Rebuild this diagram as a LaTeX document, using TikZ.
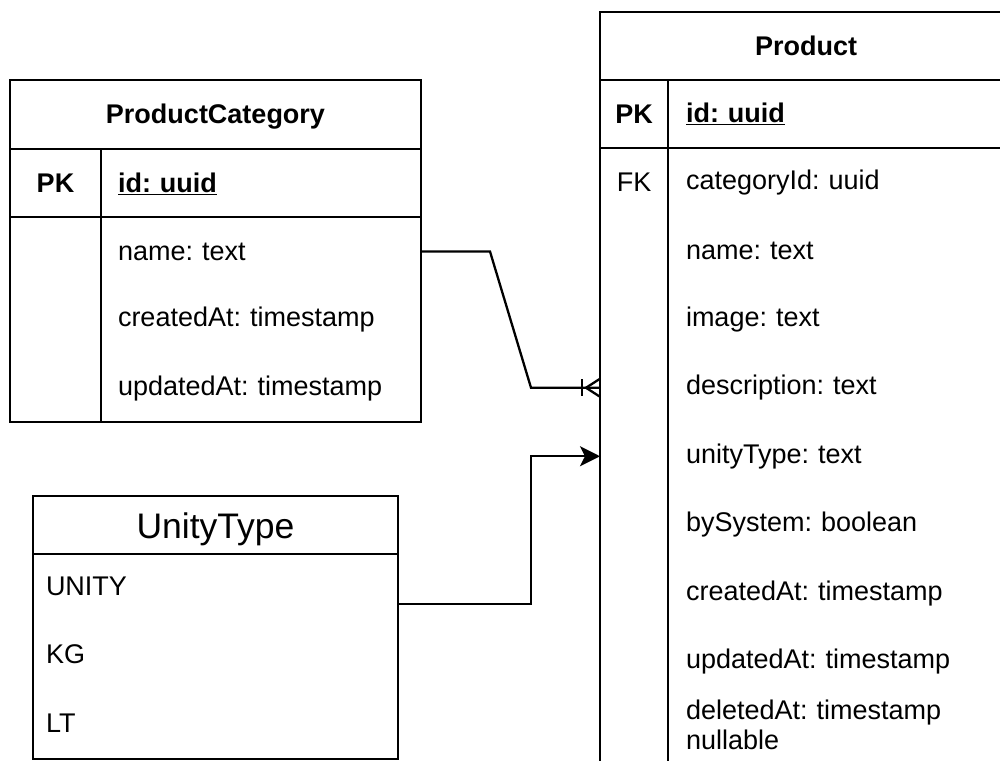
\documentclass[tikz,border=0pt]{standalone}
\usepackage{fontspec}
\setmainfont{Liberation Sans}
\usetikzlibrary{arrows.meta,calc}
\frenchspacing
\begin{document}
\frenchspacing
\begin{tikzpicture}[x=1pt,y=-1pt,line width=2.3pt,
 every node/.style={outer sep=0pt},
 tbox/.style={draw, anchor=north west, inner sep=0pt},
 ft/.style={font=\fontsize{27}{30}\selectfont},
 bt/.style={font=\fontsize{27}{30}\selectfont\bfseries, inner sep=0pt},
 pcrow/.style={ft, anchor=west, text width=286pt, inner xsep=17pt, inner ysep=0pt, minimum height=68pt, align=left},
 prow/.style={ft, anchor=west, text width=308pt, inner xsep=18pt, inner ysep=0pt, minimum height=68.5pt, align=left},
 utrow/.style={ft, anchor=west, text width=339pt, inner xsep=13pt, inner ysep=0pt, minimum height=68.5pt, align=left},
 crowline/.style={line cap=butt},
 arr/.style={-{Stealth[length=20pt,width=20pt,inset=5pt]}}
]
\useasboundingbox (0,0) rectangle (1000,760);
\clip (0,0) rectangle (1000,760);

% ProductCategory
\node[tbox, minimum width=411pt, minimum height=342pt] (pc) at (10,80) {};
\draw (10,149) -- (421,149);
\draw (10,217) -- (421,217);
\draw (101,149) -- (101,422);
\node[bt] (pcT) at (215.5,116.5) {ProductCategory};
\node[bt] (pcPK) at (55.5,183.5) {PK};
\node[pcrow, font=\fontsize{27}{30}\selectfont\bfseries] (pcId) at (101,183.5) {\underline{id: uuid}};
\node[pcrow] (pcName) at (101,251.5) {name: text};
\node[pcrow] (pcCreated) at (101,320) {createdAt: timestamp};
\node[pcrow] (pcUpdated) at (101,388.5) {updatedAt: timestamp};

% Product
\node[tbox, minimum width=412pt, minimum height=800pt] (p) at (600,12) {};
\draw (600,80) -- (1012,80);
\draw (600,148) -- (1012,148);
\draw (668,80) -- (668,812);
\node[bt] (pT) at (806,46) {Product};
\node[bt] (pPK) at (634,114) {PK};
\node[prow, font=\fontsize{27}{30}\selectfont\bfseries] (pId) at (668,114) {\underline{id: uuid}};
\node[ft, inner sep=0pt] (pFK) at (634,182.25) {FK};
\node[prow] (pCat) at (668,182.25) {categoryId: uuid};
\node[prow] (pName) at (668,250.75) {name: text};
\node[prow] (pImage) at (668,319.25) {image: text};
\node[prow] (pDesc) at (668,387.75) {description: text};
\node[prow] (pUnity) at (668,456.25) {unityType: text};
\node[prow] (pBy) at (668,524.75) {bySystem: boolean};
\node[prow] (pCreated) at (668,593.25) {createdAt: timestamp};
\node[prow] (pUpdated) at (668,661.75) {updatedAt: timestamp};
\node[prow] (pDeleted) at (668,725) {deletedAt: timestamp\\nullable};

% UnityType
\node[tbox, minimum width=365pt, minimum height=263pt] (ut) at (33,496) {};
\draw (33,554) -- (398,554);
\node[font=\fontsize{35.5}{40}\selectfont, inner sep=0pt] (utT) at (215.5,529) {UnityType};
\node[utrow] (utUnity) at (33,586) {UNITY};
\node[utrow] (utKG) at (33,654.5) {KG};
\node[utrow] (utLT) at (33,723) {LT};
\coordinate (utOut) at (398,604);

% connectors
\draw[line join=miter] (pcName.east) -- ++(69,0) -- ($(p.west |- pDesc.west)+(-69,0)$) -- (p.west |- pDesc.west);
\draw[crowline] ($(p.west |- pDesc.west)+(-18,-8.5)$) -- ++(0,17);
\draw[crowline] ($(p.west |- pDesc.west)+(0,-9)$) -- ++(-14,9) -- ++(14,9);

\draw[arr] (utOut) -- ($(utOut)+(133,0)$) |- (p.west |- pUnity.west);
\end{tikzpicture}
\end{document}
